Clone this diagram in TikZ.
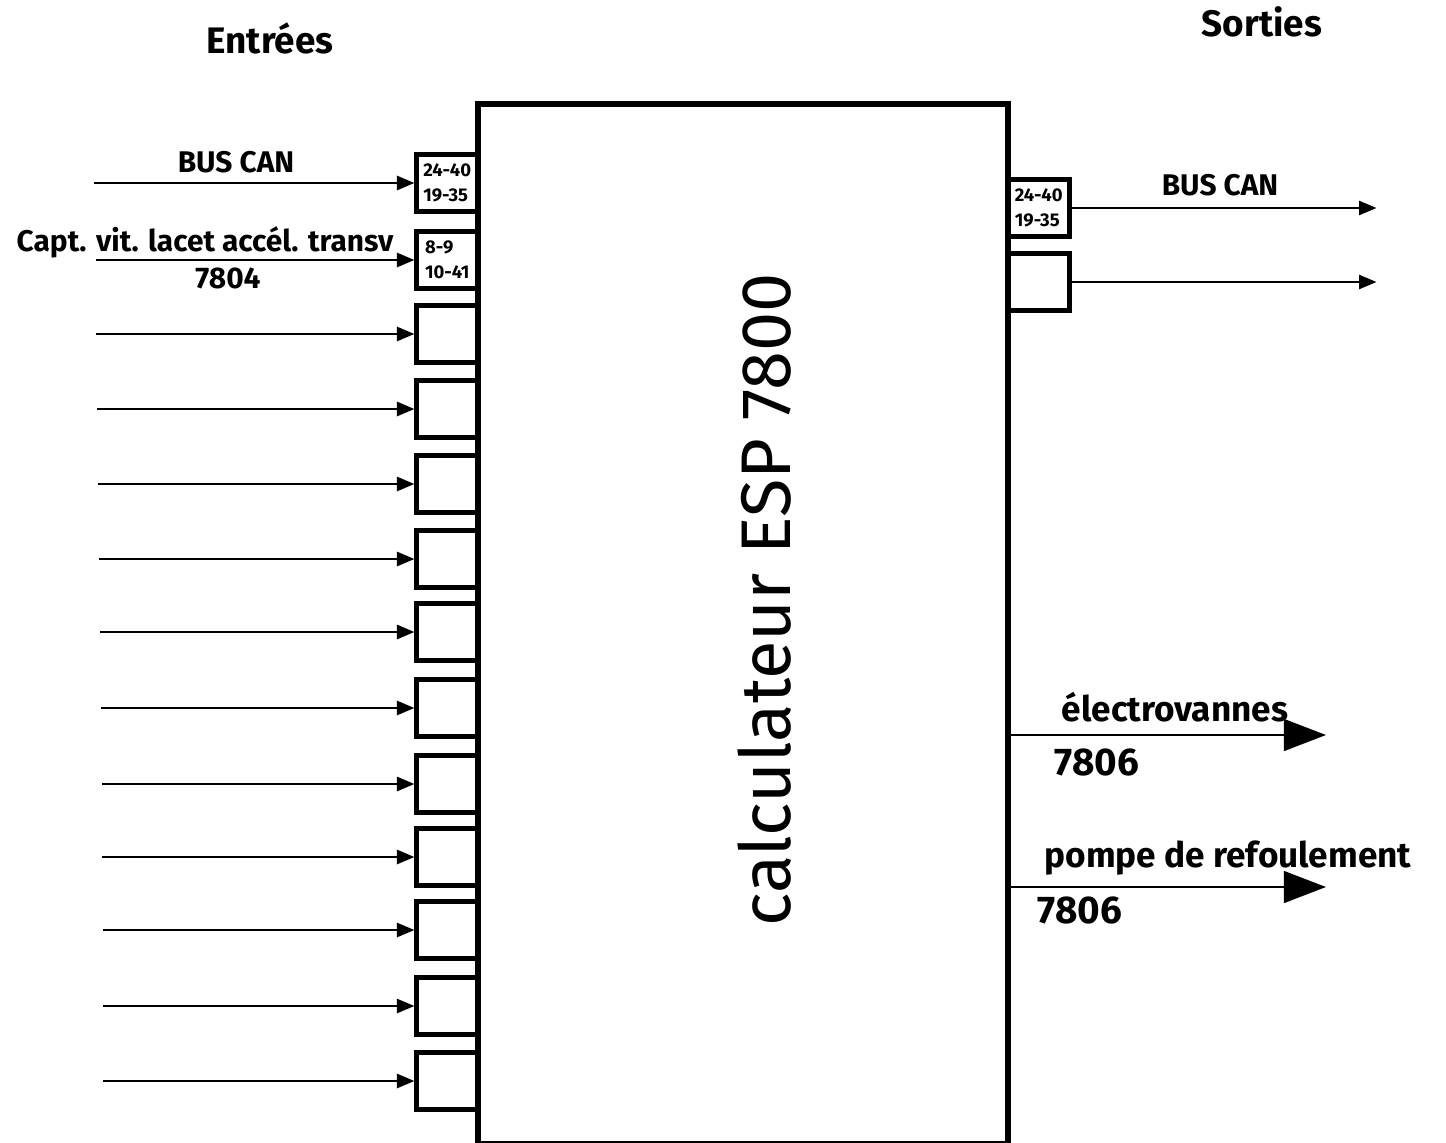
\documentclass[tikz,border=0pt]{standalone}
\usepackage{fontspec}
\setmainfont{Fira Sans}
\usetikzlibrary{positioning, arrows.meta}

\tikzset{
  pinbox/.style={draw, line width=2.6pt, minimum width=1.22cm, minimum height=1.14cm, inner sep=1pt, align=left, font=\fontsize{10.5}{14}\selectfont\bfseries},
  bigarrow/.style={line width=1.6pt, -{Triangle[length=24pt,width=18pt]}},
  titre/.style={font=\fontsize{21}{25}\selectfont\bfseries},
  sortie/.style={font=\fontsize{20}{24}\selectfont\bfseries},
  numero/.style={font=\fontsize{22}{26}\selectfont\bfseries}
}

\begin{document}
\begin{tikzpicture}[x=0.02cm, y=-0.02cm, >={Triangle[length=10pt,width=8pt]}, font=\fontsize{17}{20}\selectfont\bfseries, line width=1.5pt]
\useasboundingbox (0,0) rectangle (1446,1142);
% calculateur
\node[draw, line width=3.4pt, minimum width=10.6cm, minimum height=20.8cm] (ecu) at (743,624) {};
\node[rotate=90, font=\fontsize{40}{48}\selectfont] (ecutext) at (765,600) {calculateur ESP 7800};
\node[titre] (entrees) at (270,38) {Entrées};
\node[titre] (sorties) at (1262,22) {Sorties};
% entrees
\node[pinbox, anchor=east] (in1) at (480,183) {24-40\\19-35};
\node[pinbox, anchor=east] (in2) at (480,260) {8-9\\10-41};
\node[pinbox, anchor=east] (in3) at (480,334) {};
\node[pinbox, anchor=east] (in4) at (480,409) {};
\node[pinbox, anchor=east] (in5) at (480,484) {};
\node[pinbox, anchor=east] (in6) at (480,559) {};
\node[pinbox, anchor=east] (in7) at (480,632) {};
\node[pinbox, anchor=east] (in8) at (480,708) {};
\node[pinbox, anchor=east] (in9) at (480,784) {};
\node[pinbox, anchor=east] (in10) at (480,857) {};
\node[pinbox, anchor=east] (in11) at (480,930) {};
\node[pinbox, anchor=east] (in12) at (480,1006) {};
\node[pinbox, anchor=east] (in13) at (480,1081) {};
\draw[<-] (in1.west) -- ++(-320,0);
\draw[<-] (in2.west) -- ++(-318,0);
\draw[<-] (in3.west) -- ++(-318,0);
\draw[<-] (in4.west) -- ++(-317,0);
\draw[<-] (in5.west) -- ++(-316,0);
\draw[<-] (in6.west) -- ++(-315,0);
\draw[<-] (in7.west) -- ++(-314,0);
\draw[<-] (in8.west) -- ++(-313,0);
\draw[<-] (in9.west) -- ++(-312,0);
\draw[<-] (in10.west) -- ++(-312,0);
\draw[<-] (in11.west) -- ++(-311,0);
\draw[<-] (in12.west) -- ++(-311,0);
\draw[<-] (in13.west) -- ++(-311,0);
\node (canin) at (236,162) {BUS CAN};
\node (capt) at (205,242) {Capt. vit. lacet accél. transv};
\node (captnum) at (228,278) {7804};
% sorties
\node[pinbox, anchor=west] (out1) at (1006,208) {24-40\\19-35};
\node[pinbox, anchor=west] (out2) at (1006,282) {};
\draw[->] (out1.east) -- ++(305,0);
\draw[->] (out2.east) -- ++(305,0);
\node (canout) at (1220,185) {BUS CAN};
\coordinate (evtip) at (1326,735);
\coordinate (pmtip) at (1326,887);
\draw[bigarrow] (ecu.east |- evtip) -- (evtip);
\draw[bigarrow] (ecu.east |- pmtip) -- (pmtip);
\node[sortie] (ev) at (1175,707) {électrovannes};
\node[numero] (evnum) at (1097,762) {7806};
\node[sortie] (pm) at (1228,858) {pompe de refoulement};
\node[numero] (pmnum) at (1080,910) {7806};
\end{tikzpicture}
\end{document}
